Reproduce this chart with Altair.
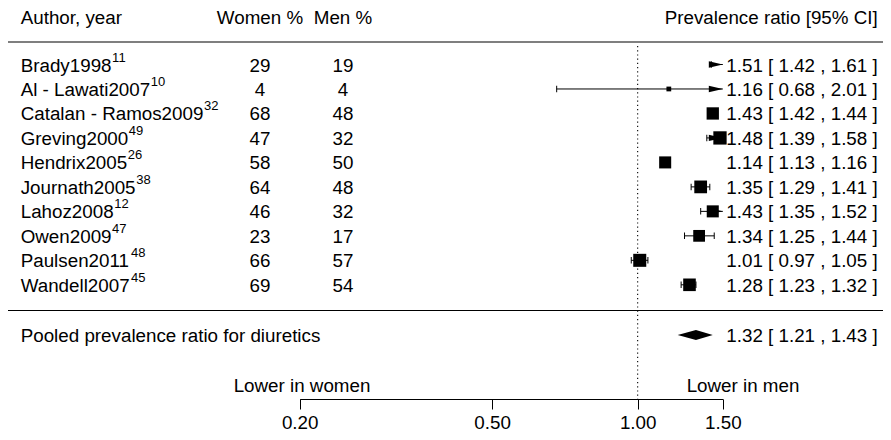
import altair as alt
import pandas as pd

# ---------------- data ----------------
authors = ["Brady1998", "Al - Lawati2007", "Catalan - Ramos2009", "Greving2000",
           "Hendrix2005", "Journath2005", "Lahoz2008", "Owen2009",
           "Paulsen2011", "Wandell2007"]
refs = ["11", "10", "32", "49", "26", "38", "12", "47", "48", "45"]
women_pct = [29, 4, 68, 47, 58, 64, 46, 23, 66, 69]
men_pct = [19, 4, 48, 32, 50, 48, 32, 17, 57, 54]
ratio = [1.51, 1.16, 1.43, 1.48, 1.14, 1.35, 1.43, 1.34, 1.01, 1.28]
ci_low = [1.42, 0.68, 1.42, 1.39, 1.13, 1.29, 1.35, 1.25, 0.97, 1.23]
ci_high = [1.61, 2.01, 1.44, 1.58, 1.16, 1.41, 1.52, 1.44, 1.05, 1.32]
weights = [86, 34, 88, 95, 86, 91, 86, 84, 93, 90]   # relative study weights
pooled = [1.32, 1.21, 1.43]                            # estimate, lower, upper
axis_ticks = [0.20, 0.50, 1.00, 1.50]

# ---------------- layout / style ----------------
FONT = "Liberation Sans"
FS = 18.8
SUP_FS = 13
W, H = 875, 391
TOTAL_H = 424
AX_MIN, AX_MAX = axis_ticks[0], axis_ticks[-1]
POOLED_ROW = 12.05
DIAMOND_HALF = 0.206
NAME_X = 12.7

# Arial / Liberation Sans advance widths (per 1000 em) for text measurement
_AW = {' ': 278, '-': 333}
_AW.update({d: 556 for d in "0123456789"})
_AW.update(dict(zip("ABCDEFGHIJKLMNOPQRSTUVWXYZ",
                    [667, 667, 722, 722, 667, 611, 778, 722, 278, 500, 667, 556, 833,
                     722, 778, 667, 778, 722, 667, 611, 722, 667, 944, 667, 667, 611])))
_AW.update(dict(zip("abcdefghijklmnopqrstuvwxyz",
                    [556, 556, 500, 556, 556, 278, 556, 556, 222, 222, 500, 222, 833,
                     556, 556, 556, 556, 333, 500, 278, 556, 500, 722, 500, 500, 500])))


def text_width(s, size):
    return sum(_AW.get(c, 556) for c in s) * size / 1000.0


df = pd.DataFrame({
    "author": authors,
    "ref": refs,
    "women": women_pct,
    "men": men_pct,
    "est": ratio,
    "lo": ci_low,
    "hi": ci_high,
    "w": weights,
})
df["row"] = range(1, len(df) + 1)
df["sup_x"] = [NAME_X + text_width(a, FS) + 0.5 for a in authors]
df["lo_c"] = df["lo"].clip(lower=AX_MIN, upper=AX_MAX)
df["hi_c"] = df["hi"].clip(lower=AX_MIN, upper=AX_MAX)
df["ann"] = [f"{e:.2f} [ {l:.2f} , {h:.2f} ]" for e, l, h in zip(ratio, ci_low, ci_high)]

xscale = alt.Scale(type="log", domain=[AX_MIN, AX_MAX], range=[291.7, 714.8], nice=False)
yscale = alt.Scale(domain=[1, 10], range=[56.5, 276.8], nice=False, zero=False)
xaxis = alt.Axis(values=axis_ticks, format=".2f", title=None, grid=False,
                 tickSize=10, tickColor="black", tickWidth=1,
                 domainColor="black", domainWidth=1,
                 labelColor="black", labelFont=FONT, labelFontSize=FS,
                 labelBaseline="alphabetic", labelPadding=19,
                 labelFlush=False, labelOverlap=False)


def X(field):
    return alt.X(field, type="quantitative", scale=xscale, axis=xaxis)


def Y(field):
    return alt.Y(field, type="quantitative", scale=yscale, axis=None)


# reference (no effect) line
ref_line = alt.Chart(pd.DataFrame({"x": [1.0]})).mark_rule(
    color="black", strokeDash=[1.2, 3], strokeWidth=1.1
).encode(x=X("x"), y=alt.value(38), y2=alt.value(H))

# confidence intervals
ci = alt.Chart(df).mark_rule(color="black", strokeWidth=1).encode(
    x=X("lo_c"), x2="hi_c", y=Y("row"))

ends = pd.concat([
    df.loc[df["lo"] >= AX_MIN, ["lo", "row"]].rename(columns={"lo": "xe"}),
    df.loc[df["hi"] <= AX_MAX, ["hi", "row"]].rename(columns={"hi": "xe"}),
])
ci_ends = alt.Chart(ends).mark_tick(
    orient="vertical", size=6.5, thickness=1, color="black", opacity=1
).encode(x=X("xe"), y=Y("row"))

arrow_path = "M-2,-0.45L0,0L-2,0.45Z"
arrows = alt.Chart(df[df["hi"] > AX_MAX]).mark_point(
    shape=arrow_path, filled=True, size=196, color="black", opacity=1, strokeWidth=0
).encode(x=X("hi_c"), y=Y("row"))

squares = alt.Chart(df[df["est"] <= AX_MAX]).mark_square(
    filled=True, color="black", opacity=1
).encode(
    x=X("est"), y=Y("row"),
    size=alt.Size("w:Q", scale=alt.Scale(type="pow", exponent=2, domain=[0, 100],
                                         range=[0, 196]), legend=None))

diamond_df = pd.DataFrame({
    "x": [pooled[1], pooled[0], pooled[2]],
    "y": [POOLED_ROW, POOLED_ROW - DIAMOND_HALF, POOLED_ROW],
    "y2": [POOLED_ROW, POOLED_ROW + DIAMOND_HALF, POOLED_ROW],
})
diamond = alt.Chart(diamond_df).mark_area(color="black", orient="vertical", opacity=1).encode(
    x=X("x"), y=Y("y"), y2="y2")


def txt(data, field, xpx, align, ypx=None, yfield="row", size=FS, dy=1):
    enc = dict(text=alt.Text(field))
    enc["x"] = alt.value(xpx) if not isinstance(xpx, str) else alt.X(xpx, type="quantitative", scale=None)
    enc["y"] = Y(yfield) if ypx is None else alt.value(ypx)
    return alt.Chart(data).mark_text(
        align=align, baseline="middle", font=FONT, fontSize=size, color="black", dy=dy
    ).encode(**enc)


names = txt(df, "author", NAME_X, "left")
sups = txt(df, "ref", "sup_x", "left", size=SUP_FS, dy=-7)
women = txt(df, "women", 252, "center")
men = txt(df, "men", 335, "center")
ann = txt(df, "ann", 869.7, "right")

hdr = lambda s: pd.DataFrame({"t": [s]})
h1 = txt(hdr("Author, year"), "t", NAME_X, "left", ypx=9.3)
h2 = txt(hdr("Women %"), "t", 252, "center", ypx=9.3)
h3 = txt(hdr("Men %"), "t", 335, "center", ypx=9.3)
h4 = txt(hdr("Prevalence ratio [95% CI]"), "t", 869.7, "right", ypx=9.3)

pool_df = pd.DataFrame({
    "t": ["Pooled prevalence ratio for diuretics"],
    "a": [f"{pooled[0]:.2f} [ {pooled[1]:.2f} , {pooled[2]:.2f} ]"],
    "row": [POOLED_ROW],
})
p1 = txt(pool_df, "t", NAME_X, "left")
p2 = txt(pool_df, "a", 869.7, "right")

lw = txt(hdr("Lower in women"), "t", 294, "center", ypx=377)
lm = txt(hdr("Lower in men"), "t", 735, "center", ypx=377)

top_rule = alt.Chart(hdr("r")).mark_rule(color="#555555", strokeWidth=1.4).encode(
    x=alt.value(0), x2=alt.value(W), y=alt.value(34))
bot_rule = alt.Chart(hdr("r")).mark_rule(color="black", strokeWidth=1).encode(
    x=alt.value(0), x2=alt.value(W), y=alt.value(302.5))

chart = alt.layer(
    top_rule, bot_rule, ref_line, ci, ci_ends, arrows, squares, diamond,
    names, sups, women, men, ann, h1, h2, h3, h4, p1, p2, lw, lm
).properties(
    width=W, height=H,
    autosize=alt.AutoSizeParams(type="none"),
    padding={"left": 0, "right": 0, "top": 0, "bottom": TOTAL_H - H},
    background="white",
).configure_view(stroke=None)

chart.save("out.html", embed_options={"renderer": "svg", "actions": False})
